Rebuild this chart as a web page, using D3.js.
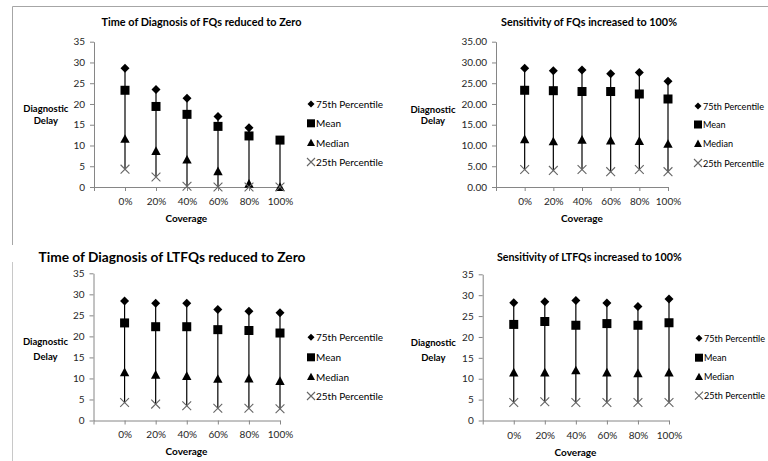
<!DOCTYPE html>
<html><head><meta charset="utf-8">
<script src="https://cdn.jsdelivr.net/npm/d3@7"></script>
<style>
body{margin:0;background:#fff;overflow:hidden;}
text{font-family:Lato,"Open Sans",sans-serif;}
</style>
</head><body>
<svg id="c" width="768" height="461"></svg>
<script>
// ---------- data ----------
const categories = ["0%","20%","40%","60%","80%","100%"];
const seriesNames = ["75th Percentile","Mean","Median","25th Percentile"];
const yTicks = [0,5,10,15,20,25,30,35];
const titles = [
  "Time of Diagnosis of FQs reduced to Zero",
  "Sensitivity of FQs increased to 100%",
  "Time of Diagnosis of LTFQs reduced to Zero",
  "Sensitivity of LTFQs increased to 100%"
];
const yTitle = ["Diagnostic","Delay"];
const xTitle = "Coverage";

const fqTimeP75    = [28.6, 23.5, 21.4, 17.0, 14.3, null];
const fqTimeMean   = [23.3, 19.4, 17.5, 14.6, 12.3, 11.3];
const fqTimeMedian = [11.6, 8.7, 6.6, 3.8, 0.8, 0.0];
const fqTimeP25    = [4.3, 2.4, 0.2, 0.0, 0.0, 0.0];

const fqSensP75    = [28.6, 28.0, 28.2, 27.3, 27.6, 25.5];
const fqSensMean   = [23.3, 23.2, 23.0, 23.0, 22.4, 21.2];
const fqSensMedian = [11.5, 11.0, 11.4, 11.2, 11.1, 10.4];
const fqSensP25    = [4.2, 4.0, 4.2, 3.7, 4.2, 3.7];

const ltfqTimeP75    = [28.4, 27.9, 27.9, 26.4, 26.0, 25.6];
const ltfqTimeMean   = [23.2, 22.3, 22.3, 21.6, 21.4, 20.8];
const ltfqTimeMedian = [11.5, 10.9, 10.6, 9.9, 10.0, 9.4];
const ltfqTimeP25    = [4.3, 3.9, 3.5, 2.9, 2.9, 2.8];

const ltfqSensP75    = [28.2, 28.4, 28.7, 28.1, 27.3, 29.1];
const ltfqSensMean   = [23.0, 23.7, 22.8, 23.2, 22.8, 23.4];
const ltfqSensMedian = [11.5, 11.5, 12.0, 11.5, 11.3, 11.5];
const ltfqSensP25    = [4.3, 4.5, 4.3, 4.3, 4.3, 4.3];

const panelSeries = [
  [fqTimeP75, fqTimeMean, fqTimeMedian, fqTimeP25],
  [fqSensP75, fqSensMean, fqSensMedian, fqSensP25],
  [ltfqTimeP75, ltfqTimeMean, ltfqTimeMedian, ltfqTimeP25],
  [ltfqSensP75, ltfqSensMean, ltfqSensMedian, ltfqSensP25]
];

// ---------- layout ----------
const layouts = [
  {x0:94, x1:280, yTop:41.7, yBot:187, tX:201.5, tY:21, tW:200, ylX:45.8, ylY:[108,120.7], cX:186.3, cY:218.3, xlDy:15.5, lgX:311, lgFs:10, lgY:[104,123.3,142.7,162], fmt:d3.format("d")},
  {x0:496, x1:668, yTop:41.7, yBot:187, tX:589, tY:21.7, tW:176, ylX:433, ylY:[109,120.7], cX:582, cY:218, xlDy:15.5, lgX:698, lgFs:9.1, lgY:[106,124.5,143.5,163], fmt:d3.format(".2f")},
  {x0:93.5, x1:280, yTop:273.3, yBot:420.5, tX:172, tY:256.7, tW:267, ylX:45.5, ylY:[341.7,356.7], cX:186.5, cY:451, xlDy:15.5, lgX:311, lgFs:10, lgY:[337.3,357.3,376.7,396], fmt:d3.format("d")},
  {x0:482.7, x1:669, yTop:274.3, yBot:420.5, tX:589.3, tY:256, tW:184.7, ylX:433.3, ylY:[342.3,357], cX:575.5, cY:452.3, xlDy:16.5, lgX:699, lgFs:9.1, lgY:[338.3,357.7,376.7,395.7], fmt:d3.format("d")}
];

const svg = d3.select("#c");

// frame lines
svg.append("path").attr("d","M12.5,245 V6.5 H768").attr("fill","none").attr("stroke","#a6a6a6");
svg.append("path").attr("d","M12.5,262 V461").attr("fill","none").attr("stroke","#c8c8c8");

// marker shapes
function marker(g, kind, cx, cy, legend) {
  if (kind === 0) {
    const s = legend ? 3.5 : 4.5;
    g.append("path").attr("d",`M${cx},${cy-s}L${cx+s},${cy}L${cx},${cy+s}L${cx-s},${cy}Z`).attr("fill","#000");
  } else if (kind === 1) {
    const s = legend ? 4 : 4.5;
    g.append("rect").attr("x",cx-s).attr("y",cy-s).attr("width",2*s).attr("height",2*s).attr("fill","#000");
  } else if (kind === 2) {
    const s = legend ? 4 : 4.7;
    g.append("path").attr("d",`M${cx},${cy-s}L${cx+s},${cy+s*0.85}L${cx-s},${cy+s*0.85}Z`).attr("fill","#000");
  } else {
    const s = legend ? 4 : 4.4;
    g.append("path").attr("d",`M${cx-s},${cy-s}L${cx+s},${cy+s}M${cx+s},${cy-s}L${cx-s},${cy+s}`)
      .attr("stroke","#666").attr("stroke-width",1.1).attr("fill","none");
  }
}

function fitText(t, w) {
  let fs = 11;
  t.style("font-size", fs+"px");
  const cur = t.node().getComputedTextLength();
  fs = fs * w / cur;
  t.style("font-size", fs.toFixed(2)+"px");
}

layouts.forEach((L, i) => {
  const g = svg.append("g");
  const series = panelSeries[i];
  const x = d3.scalePoint().domain([""].concat(categories)).range([L.x0, L.x1]);
  const y = d3.scaleLinear().domain([0,35]).range([L.yBot, L.yTop]);

  // title
  const t = g.append("text").attr("x", L.tX).attr("y", L.tY).attr("text-anchor","middle")
    .attr("dominant-baseline","central").attr("font-weight","bold").attr("fill","#000").text(titles[i]);
  fitText(t, L.tW);

  // y axis
  const ya = g.append("g").attr("transform",`translate(${L.x0},0)`)
    .call(d3.axisLeft(y).tickValues(yTicks).tickSize(4).tickSizeOuter(0).tickPadding(5).tickFormat(L.fmt));
  // x axis
  const xa = g.append("g").attr("transform",`translate(0,${L.yBot})`)
    .call(d3.axisBottom(x).tickSize(4).tickSizeOuter(0).tickPadding(L.xlDy-9));
  [ya, xa].forEach(a => {
    a.select(".domain").attr("stroke","#868686");
    a.selectAll(".tick line").attr("stroke","#868686");
    a.selectAll(".tick text").attr("fill","#262626").style("font-size","10px").style("font-family","Lato,'Open Sans',sans-serif");
  });

  // axis titles
  yTitle.forEach((s, j) => {
    g.append("text").attr("x", L.ylX).attr("y", L.ylY[j]).attr("text-anchor","middle")
      .attr("dominant-baseline","central").attr("font-weight","bold").style("font-size","9.5px").text(s);
  });
  g.append("text").attr("x", L.cX).attr("y", L.cY).attr("text-anchor","middle")
    .attr("dominant-baseline","central").attr("font-weight","bold").style("font-size","10px").text(xTitle);

  // high-low lines
  categories.forEach((c, k) => {
    const vals = series.map(s => s[k]).filter(v => v !== null && v !== undefined);
    g.append("line").attr("x1", x(c)).attr("x2", x(c))
      .attr("y1", y(d3.max(vals))).attr("y2", y(d3.min(vals)))
      .attr("stroke","#000").attr("stroke-width",1.2);
  });

  // markers
  series.forEach((s, si) => {
    categories.forEach((c, k) => {
      if (s[k] === null || s[k] === undefined) return;
      marker(g, si, x(c), y(s[k]), false);
    });
  });

  // legend
  seriesNames.forEach((n, si) => {
    marker(g, si, L.lgX, L.lgY[si], true);
    g.append("text").attr("x", L.lgX + 5).attr("y", L.lgY[si]).attr("dominant-baseline","central")
      .style("font-size", L.lgFs + "px").attr("fill","#000").text(n);
  });
});
</script>
</body></html>
